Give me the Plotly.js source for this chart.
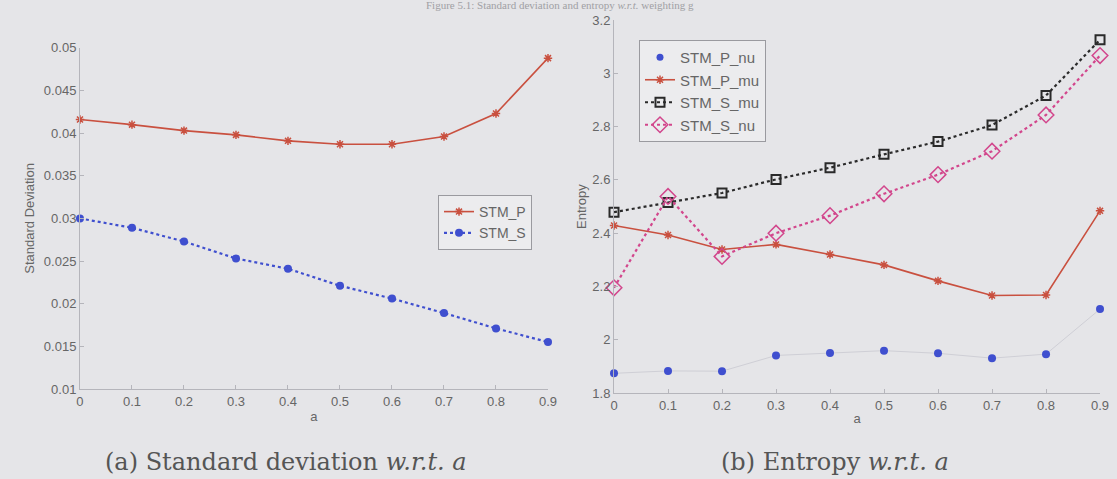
<!DOCTYPE html>
<html>
<head>
<meta charset="utf-8">
<script src="https://cdn.plot.ly/plotly-3.0.1.min.js"></script>
<style>html,body{margin:0;padding:0;background:#e5e5e8;}#chart{width:1117px;height:479px;}</style>
</head>
<body>
<div id="chart"></div>
<script>
const aValues = [0, 0.1, 0.2, 0.3, 0.4, 0.5, 0.6, 0.7, 0.8, 0.9];
const stdP = [0.0416, 0.0410, 0.0403, 0.0398, 0.0391, 0.0387, 0.0387, 0.0396, 0.0423, 0.0488];
const stdS = [0.0300, 0.0289, 0.0273, 0.0253, 0.0241, 0.0221, 0.0206, 0.0189, 0.0171, 0.0155];
const entPnu = [1.874, 1.883, 1.882, 1.941, 1.950, 1.959, 1.949, 1.931, 1.946, 2.115];
const entPmu = [2.429, 2.393, 2.339, 2.358, 2.320, 2.281, 2.221, 2.166, 2.168, 2.484];
const entSmu = [2.479, 2.515, 2.551, 2.602, 2.646, 2.696, 2.744, 2.806, 2.917, 3.126];
const entSnu = [2.195, 2.538, 2.313, 2.400, 2.466, 2.548, 2.620, 2.708, 2.844, 3.067];
const xTicks = [0, 0.1, 0.2, 0.3, 0.4, 0.5, 0.6, 0.7, 0.8, 0.9];
const xTickText = ['0', '0.1', '0.2', '0.3', '0.4', '0.5', '0.6', '0.7', '0.8', '0.9'];
const stdTicks = [0.01, 0.015, 0.02, 0.025, 0.03, 0.035, 0.04, 0.045, 0.05];
const stdTickText = ['0.01', '0.015', '0.02', '0.025', '0.03', '0.035', '0.04', '0.045', '0.05'];
const entTicks = [1.8, 2, 2.2, 2.4, 2.6, 2.8, 3, 3.2];
const entTickText = ['1.8', '2', '2.2', '2.4', '2.6', '2.8', '3', '3.2'];

const red = '#c9503f', blue = '#3f4fcf', black = '#2a2a2a', pink = '#d2468c';

const traces = [
  {x: aValues, y: stdP, name: 'STM_P', mode: 'lines+markers', xaxis: 'x', yaxis: 'y', legend: 'legend',
   line: {color: red, width: 1.6}, marker: {symbol: 'asterisk-open', size: 7, color: red, line: {color: red, width: 1.5}}, cliponaxis: false},
  {x: aValues, y: stdS, name: 'STM_S', mode: 'lines+markers', xaxis: 'x', yaxis: 'y', legend: 'legend',
   line: {color: blue, width: 2.2, dash: 'dot'}, marker: {symbol: 'circle', size: 8, color: blue}, cliponaxis: false},
  {x: aValues, y: entPnu, name: 'STM_P_nu', mode: 'lines+markers', xaxis: 'x2', yaxis: 'y2', legend: 'legend2',
   line: {color: '#cfcfd6', width: 1}, marker: {symbol: 'circle', size: 8, color: blue}, cliponaxis: false, showlegend: false},
  {x: [null], y: [null], name: 'STM_P_nu', mode: 'markers', xaxis: 'x2', yaxis: 'y2', legend: 'legend2',
   marker: {symbol: 'circle', size: 7, color: blue}},
  {x: aValues, y: entPmu, name: 'STM_P_mu', mode: 'lines+markers', xaxis: 'x2', yaxis: 'y2', legend: 'legend2',
   line: {color: red, width: 1.6}, marker: {symbol: 'asterisk-open', size: 7, color: red, line: {color: red, width: 1.5}}, cliponaxis: false},
  {x: aValues, y: entSmu, name: 'STM_S_mu', mode: 'lines+markers', xaxis: 'x2', yaxis: 'y2', legend: 'legend2',
   line: {color: black, width: 2.2, dash: 'dot'}, marker: {symbol: 'square-open', size: 9, color: black, line: {color: black, width: 2}}, cliponaxis: false},
  {x: aValues, y: entSnu, name: 'STM_S_nu', mode: 'lines+markers', xaxis: 'x2', yaxis: 'y2', legend: 'legend2',
   line: {color: pink, width: 2.2, dash: 'dot'}, marker: {symbol: 'diamond-open', size: 12, color: pink, line: {color: pink, width: 1.5}}, cliponaxis: false}
];

const sans = 'Liberation Sans, Arial, sans-serif';
const serif = 'DejaVu Serif, Liberation Serif, serif';
const tickFont = {family: sans, size: 13, color: '#666'};
const axisCommon = {showgrid: false, zeroline: false, showline: true, linecolor: '#b5b5bb', linewidth: 1,
  ticks: 'inside', ticklen: 4, tickcolor: '#b5b5bb', tickfont: tickFont, mirror: false};

const layout = {
  width: 1117, height: 479,
  paper_bgcolor: '#e5e5e8', plot_bgcolor: '#e5e5e8',
  margin: {l: 0, r: 0, t: 0, b: 0},
  showlegend: true,
  xaxis: Object.assign({}, axisCommon, {domain: [0.0716, 0.4906], range: [0, 0.9], tickvals: xTicks, ticktext: xTickText, anchor: 'y',
    title: {text: 'a', font: {family: sans, size: 13, color: '#666'}, standoff: 4}}),
  yaxis: Object.assign({}, axisCommon, {domain: [0.188, 0.90], range: [0.01, 0.05], tickvals: stdTicks, ticktext: stdTickText, anchor: 'x',
    title: {text: 'Standard Deviation', font: {family: sans, size: 13, color: '#666'}, standoff: 6}}),
  xaxis2: Object.assign({}, axisCommon, {domain: [0.5497, 0.9848], range: [0, 0.9], tickvals: xTicks, ticktext: xTickText, anchor: 'y2',
    title: {text: 'a', font: {family: sans, size: 13, color: '#666'}, standoff: 2}}),
  yaxis2: Object.assign({}, axisCommon, {domain: [0.1795, 0.958], range: [1.8, 3.2], tickvals: entTicks, ticktext: entTickText, anchor: 'x2',
    title: {text: 'Entropy', font: {family: sans, size: 13, color: '#666'}, standoff: 2}}),
  legend: {x: 438/1117, y: 1 - 195/479, xanchor: 'left', yanchor: 'top', bgcolor: '#ececee', bordercolor: '#9a9a9f', borderwidth: 1,
    font: {family: sans, size: 14, color: '#666'}, itemwidth: 30, tracegroupgap: 0},
  legend2: {x: 639/1117, y: 1 - 40/479, xanchor: 'left', yanchor: 'top', bgcolor: '#ececee', bordercolor: '#9a9a9f', borderwidth: 1,
    font: {family: sans, size: 15, color: '#666'}, itemwidth: 30, tracegroupgap: 0},
  annotations: [
    {text: 'Figure 5.1: Standard deviation and entropy <i>w.r.t.</i> weighting g', xref: 'paper', yref: 'paper', x: 560/1117, xanchor: 'center',
     y: 1, yanchor: 'top', yshift: 3, showarrow: false, font: {family: 'Liberation Serif, serif', size: 11, color: '#a0a0a4'}},
    {text: '(a) Standard deviation <i>w.r.t. a</i>', xref: 'paper', yref: 'paper', x: 286/1117, xanchor: 'center', y: 1 - 462/479, yanchor: 'middle',
     showarrow: false, font: {family: serif, size: 24, color: '#555'}},
    {text: '(b) Entropy <i>w.r.t. a</i>', xref: 'paper', yref: 'paper', x: 835/1117, xanchor: 'center', y: 1 - 462/479, yanchor: 'middle',
     showarrow: false, font: {family: serif, size: 24, color: '#555'}}
  ]
};

Plotly.newPlot('chart', traces, layout, {displayModeBar: false, staticPlot: true});
</script>
</body>
</html>
